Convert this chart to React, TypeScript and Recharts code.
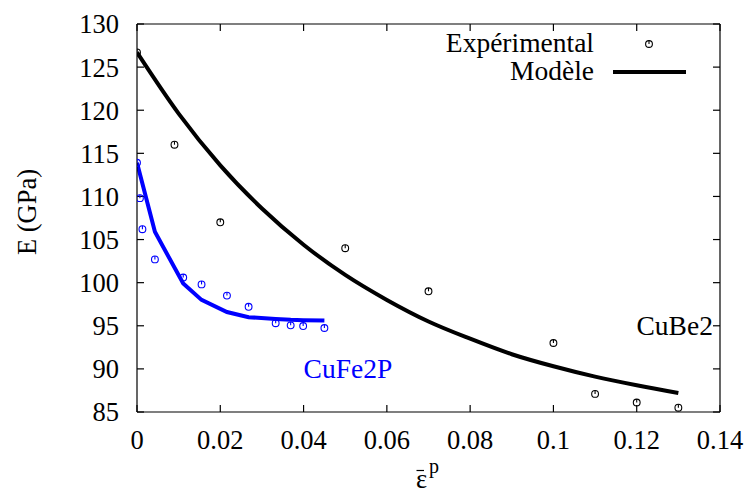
import React from "react";
import {
  ComposedChart, Line, Scatter, XAxis, YAxis, Legend, ReferenceDot,
} from "recharts";

// strain (x) and Young's modulus in GPa (y)
const cube2Strain = [0, 0.009, 0.02, 0.05, 0.07, 0.1, 0.11, 0.12, 0.13];
const cube2Modulus = [126.7, 116, 107, 104, 99, 93, 87.1, 86.1, 85.5];

const cube2ModelStrain = [0, 0.01, 0.02, 0.03, 0.04, 0.05, 0.06, 0.07, 0.08, 0.09, 0.1, 0.11, 0.12, 0.13];
const cube2ModelModulus = [126.7, 119.6, 113.6, 108.6, 104.4, 100.9, 98.0, 95.5, 93.5, 91.7, 90.3, 89.1, 88.1, 87.2];

const cufe2pStrain = [0, 0.0007, 0.0013, 0.0043, 0.0111, 0.0155, 0.0216, 0.0268, 0.0333, 0.0369, 0.0399, 0.045];
const cufe2pModulus = [113.9, 109.8, 106.2, 102.7, 100.6, 99.8, 98.5, 97.2, 95.3, 95.05, 94.97, 94.74];

const cufe2pModelStrain = [0, 0.0043, 0.0111, 0.0155, 0.0216, 0.0268, 0.0333, 0.0369, 0.0399, 0.045];
const cufe2pModelModulus = [113.9, 105.9, 99.9, 98.0, 96.6, 96.0, 95.8, 95.7, 95.65, 95.6];

const xTicks = [0, 0.02, 0.04, 0.06, 0.08, 0.1, 0.12, 0.14];
const yTicks = [85, 90, 95, 100, 105, 110, 115, 120, 125, 130];

const zip = (xs: number[], ys: number[]) => xs.map((x, i) => ({ x, y: ys[i] }));

const FONT = "'Liberation Serif', 'Times New Roman', 'DejaVu Serif', serif";
const FS = 26.5;
const FS_TEXT = 27.5;
const BLUE = "#0000ff";

function Ring({ cx, cy, color }: { cx: number; cy: number; color: string }) {
  const r = 3.4;
  return (
    <g>
      <circle cx={cx} cy={cy} r={r} fill="none" stroke={color} strokeWidth={1.1} />
      <line x1={cx} y1={cy - r} x2={cx} y2={cy} stroke={color} strokeWidth={1.1} />
    </g>
  );
}

function KeyBox() {
  return (
    <svg width={260} height={60} style={{ overflow: "visible", fontFamily: FONT }}>
      <g fontSize={FS_TEXT} fill="#000">
        <text x={154} y={24} textAnchor="end" style={{ fontFamily: FONT }}>Expérimental</text>
        <text x={154} y={52} textAnchor="end" style={{ fontFamily: FONT }}>Modèle</text>
      </g>
      <Ring cx={209} cy={16} color="#000" />
      <line x1={173} y1={44} x2={246} y2={44} stroke="#000" strokeWidth={4} />
    </svg>
  );
}

// strain symbol: epsilon with an overbar, superscript p
function StrainLabel() {
  return (
    <g style={{ fontFamily: FONT }} fill="#000">
      <text x={416} y={488} fontSize={FS} style={{ fontFamily: FONT }}>ε</text>
      <line x1={416.5} y1={470.5} x2={424} y2={470.5} stroke="#000" strokeWidth={1.2} />
      <text x={429} y={473} fontSize={20} style={{ fontFamily: FONT }}>p</text>
    </g>
  );
}

export default function App() {
  const tickStyle = { fontSize: FS, fill: "#000", style: { fontFamily: FONT } };
  const axisLine = { stroke: "#000", strokeWidth: 1.2 };
  return (
    <div style={{ position: "absolute", left: 0, top: 0, background: "#fff", fontFamily: FONT }}>
      <ComposedChart width={750} height={493} margin={{ top: 23, right: 29, bottom: 0, left: 0 }}>
        <XAxis
          xAxisId={0} dataKey="x" type="number" domain={[0, 0.14]} ticks={xTicks}
          allowDataOverflow height={81} tickSize={-7} tickMargin={25}
          tick={tickStyle} axisLine={axisLine} tickLine={axisLine}
          label={{ content: () => <StrainLabel /> }}
        />
        <XAxis
          xAxisId="top" orientation="top" dataKey="x" type="number" domain={[0, 0.14]} ticks={xTicks}
          allowDataOverflow height={1} tickSize={-7} tickFormatter={() => ""}
          axisLine={axisLine} tickLine={axisLine}
        />
        <YAxis
          yAxisId={0} dataKey="y" type="number" domain={[85, 130]} ticks={yTicks}
          allowDataOverflow width={137} tickSize={-7} tickMargin={25}
          tick={tickStyle} axisLine={axisLine} tickLine={axisLine}
          label={{
            content: () => (
              <text x={27} y={212} textAnchor="middle" dominantBaseline="central"
                transform="rotate(-90 27 212)" fontSize={FS} fill="#000" style={{ fontFamily: FONT }}>
                E (GPa)
              </text>
            ),
          }}
        />
        <YAxis
          yAxisId="right" orientation="right" dataKey="y" type="number" domain={[85, 130]} ticks={yTicks}
          allowDataOverflow width={1} tickSize={-7} tickFormatter={() => ""}
          axisLine={axisLine} tickLine={axisLine}
        />

        <Line
          data={zip(cube2ModelStrain, cube2ModelModulus)} dataKey="y" type="monotone"
          stroke="#000" strokeWidth={4} dot={false} isAnimationActive={false}
        />
        <Line
          data={zip(cufe2pModelStrain, cufe2pModelModulus)} dataKey="y" type="linear"
          stroke={BLUE} strokeWidth={4} dot={false} isAnimationActive={false}
        />
        <Scatter
          data={zip(cube2Strain, cube2Modulus)} isAnimationActive={false}
          shape={(p: any) => <Ring cx={p.cx} cy={p.cy} color="#000" />}
        />
        <Scatter
          data={zip(cufe2pStrain, cufe2pModulus)} isAnimationActive={false}
          shape={(p: any) => <Ring cx={p.cx} cy={p.cy} color={BLUE} />}
        />

        <ReferenceDot
          x={0.04} y={90} r={0} ifOverflow="visible"
          shape={(p: any) => (
            <text x={p.cx} y={p.cy} dy={9} textAnchor="start" fontSize={FS_TEXT} fill={BLUE} style={{ fontFamily: FONT }}>
              CuFe2P
            </text>
          )}
        />
        <ReferenceDot
          x={0.1383} y={95} r={0} ifOverflow="visible"
          shape={(p: any) => (
            <text x={p.cx} y={p.cy} dy={9} textAnchor="end" fontSize={FS_TEXT} fill="#000" style={{ fontFamily: FONT }}>
              CuBe2
            </text>
          )}
        />

        <Legend
          layout="vertical" align="center" verticalAlign="middle"
          wrapperStyle={{ left: 440, top: 28, width: 260, height: 60 }}
          content={() => <KeyBox />}
        />
      </ComposedChart>
    </div>
  );
}
